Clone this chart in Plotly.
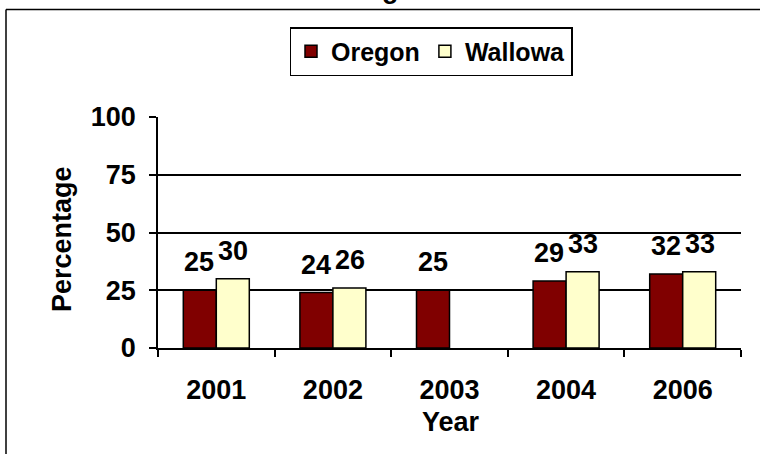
import plotly.graph_objects as go

years = ["2001", "2002", "2003", "2004", "2006"]
oregon = [25, 24, 25, 29, 32]
wallowa = [30, 26, None, 33, 33]
y_ticks = [0, 25, 50, 75, 100]

FONT = "Liberation Sans, Arial, sans-serif"
W, H = 763, 454
L, R, T, B = 158, 22, 117, 106
PW, PH = W - L - R, H - T - B


def px_x(px):
    return (px - L) / PW


def px_y(py):
    return (H - B - py) / PH


fig = go.Figure()
fig.add_trace(go.Bar(name="Oregon", x=years, y=oregon,
                     marker=dict(color="#800000", line=dict(color="black", width=1.5))))
fig.add_trace(go.Bar(name="Wallowa", x=years, y=wallowa,
                     marker=dict(color="#FFFFCC", line=dict(color="black", width=1.5))))

annotations = []
for series, shift in ((oregon, -17), (wallowa, 17)):
    for i, v in enumerate(series):
        if v is None:
            continue
        annotations.append(dict(x=i, y=v, xref="x", yref="y", text=str(v),
                                showarrow=False, xshift=shift, yshift=11,
                                yanchor="bottom",
                                font=dict(family=FONT, size=27, color="black", weight="bold")))

annotations.append(dict(x=px_x(62), y=px_y(239), xref="paper", yref="paper",
                        text="Percentage", textangle=-90, showarrow=False,
                        xanchor="center", yanchor="middle",
                        font=dict(family=FONT, size=27, color="black", weight="bold")))
annotations.append(dict(x=px_x(451), y=px_y(422), xref="paper", yref="paper",
                        text="Year", showarrow=False,
                        xanchor="center", yanchor="middle",
                        font=dict(family=FONT, size=27, color="black", weight="bold")))
annotations.append(dict(x=px_x(390), y=px_y(6), xref="paper", yref="paper",
                        text="g", showarrow=False,
                        xanchor="center", yanchor="bottom",
                        font=dict(family=FONT, size=27, color="black", weight="bold")))

shapes = [
    dict(type="line", xref="paper", yref="paper", x0=px_x(6), x1=px_x(760),
         y0=px_y(9.5), y1=px_y(9.5), line=dict(color="black", width=1.5)),
    dict(type="line", xref="paper", yref="paper", x0=px_x(6), x1=px_x(6),
         y0=px_y(9.5), y1=px_y(456), line=dict(color="black", width=1.5)),
]

fig.update_layout(
    width=W, height=H,
    margin=dict(l=L, r=R, t=T, b=B),
    paper_bgcolor="white", plot_bgcolor="white",
    barmode="group", bargap=0.434, bargroupgap=0,
    showlegend=True,
    legend=dict(orientation="h", xref="container", yref="container",
                x=431 / W, y=1 - 27 / H, xanchor="center", yanchor="top",
                bgcolor="white", bordercolor="black", borderwidth=1.5,
                font=dict(family=FONT, size=25, color="black", weight="bold"),
                itemwidth=30, tracegroupgap=0),
    xaxis=dict(type="category", range=[-0.5, 4.5], tickson="boundaries",
               ticks="outside", ticklen=7,
               tickwidth=1.5, tickcolor="black", showline=True, linecolor="black",
               linewidth=1.5, showgrid=False,
               tickfont=dict(family=FONT, size=27, color="black", weight="bold"),
               ticklabelstandoff=17),
    yaxis=dict(range=[0, 100], tickvals=y_ticks, ticks="outside", ticklen=7,
               tickwidth=1.5, tickcolor="black", showline=True, linecolor="black",
               linewidth=1.5, showgrid=True, gridcolor="black", gridwidth=1.5,
               zeroline=False,
               tickfont=dict(family=FONT, size=27, color="black", weight="bold"),
               ticklabelstandoff=8),
    annotations=annotations,
    shapes=shapes,
)

fig.write_html("out.html", config={"displayModeBar": False},
               post_script="document.body.style.margin='0';document.body.style.overflow='hidden';")
